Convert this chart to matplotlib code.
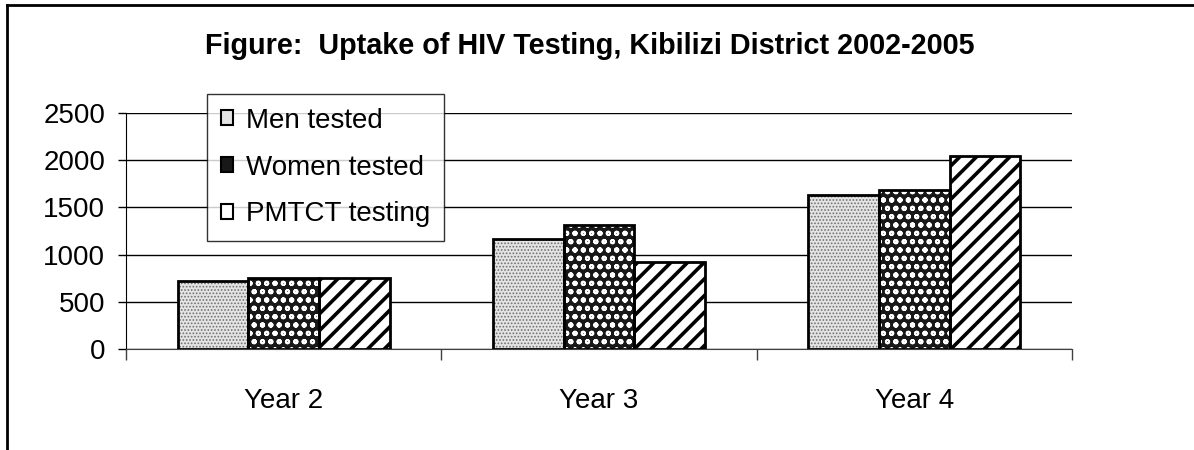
import numpy as np
import matplotlib
matplotlib.use("Agg")
import matplotlib.pyplot as plt
from matplotlib.lines import Line2D

plt.rcParams['font.family'] = ['Liberation Sans', 'DejaVu Sans']

years = ['Year 2', 'Year 3', 'Year 4']
men_tested = [720, 1170, 1630]
women_tested = [750, 1310, 1680]
pmtct_testing = [750, 920, 2050]
series_names = ['Men tested', 'Women tested', 'PMTCT testing']

fig = plt.figure(figsize=(11.94, 4.5), dpi=100)
ax = fig.add_axes([0.1055, 0.2244, 0.7923, 0.5244])

x = np.arange(len(years))
w = 0.224

# fill + hatch, hatch line width per series
styles = [
    (dict(facecolor='#e4e4e4', edgecolor='#707070', hatch='.....'), 0.8),
    (dict(facecolor='#181818', edgecolor='white', hatch='oo'), 1.4),
    (dict(facecolor='white', edgecolor='black', hatch='//'), 2.6),
]
handles = []
for i, (vals, (st, hlw)) in enumerate(zip([men_tested, women_tested, pmtct_testing], styles)):
    pos = x + (i - 1) * w
    with plt.rc_context({'hatch.linewidth': hlw}):
        ax.bar(pos, vals, w, linewidth=0, zorder=2, **st)
        h = plt.Rectangle((0, 0), 1, 1, facecolor=st['facecolor'], edgecolor='black',
                          hatch=None, linewidth=1.5)
    ax.bar(pos, vals, w, facecolor='none', edgecolor='black', linewidth=2, zorder=3)
    handles.append(h)

ax.set_xlim(-0.5, 2.5)
ax.set_ylim(0, 2500)
ax.set_yticks(np.arange(0, 2501, 500))
ax.yaxis.grid(True, color='black', linewidth=1)
ax.set_axisbelow(True)
ax.tick_params(axis='y', labelsize=20, length=6, width=1, pad=9, color='black')

ax.set_xticks(x)
ax.set_xticklabels(years)
ax.set_xticks([-0.5, 0.5, 1.5, 2.5], minor=True)
ax.tick_params(axis='x', which='major', length=0, labelsize=20, pad=28)
ax.tick_params(axis='x', which='minor', length=8, width=1, color='#404040')

for s in ['top', 'right']:
    ax.spines[s].set_visible(False)
ax.spines['left'].set_color('black')
ax.spines['bottom'].set_color('#404040')

fig.suptitle('Figure:  Uptake of HIV Testing, Kibilizi District 2002-2005',
             fontsize=20.7, fontweight='bold', x=0.494, y=0.93)

leg = ax.legend(handles, series_names, loc='upper left', bbox_to_anchor=(0.0856, 1.081),
                fontsize=20, frameon=True, fancybox=False, edgecolor='black',
                handlelength=0.45, handleheight=0.45, handletextpad=0.45,
                labelspacing=0.75, borderpad=0.5, borderaxespad=0)
leg.get_frame().set_linewidth(1)

# outer frame of the figure (left and top edges visible)
fig.add_artist(Line2D([0.006, 0.006], [0, 0.989], color='black', linewidth=2, transform=fig.transFigure))
fig.add_artist(Line2D([0.006, 1], [0.989, 0.989], color='black', linewidth=2, transform=fig.transFigure))

fig.savefig('out.png', dpi=100)
